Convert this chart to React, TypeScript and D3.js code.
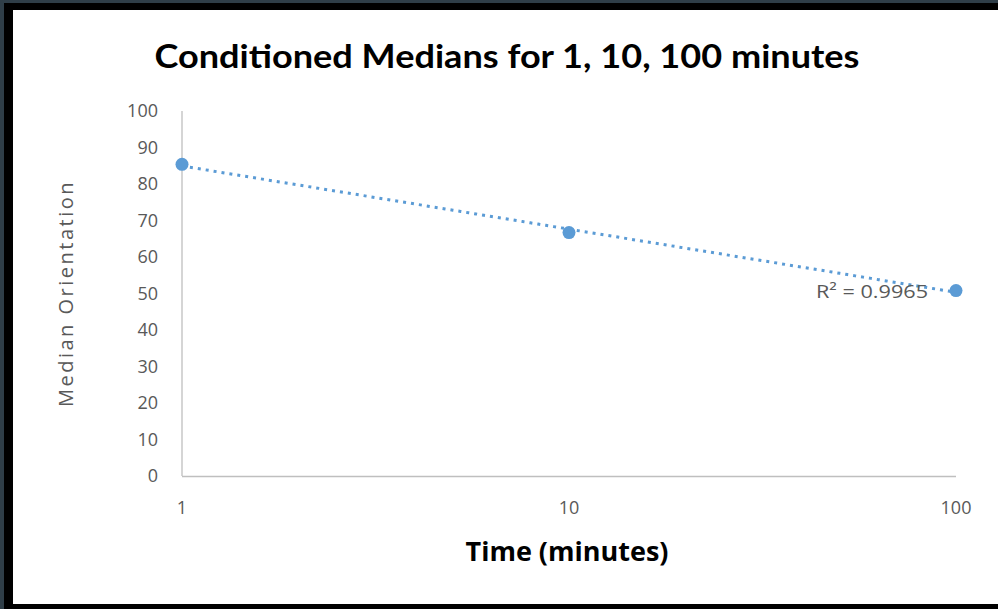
import React, { useRef, useEffect } from 'react';
import * as d3 from 'd3';

// values
const times = [1, 10, 100];
const medians = [85.4, 66.7, 50.8];
const yTicks = [0, 10, 20, 30, 40, 50, 60, 70, 80, 90, 100];
const xTicks = [1, 10, 100];
const title = 'Conditioned Medians for 1, 10, 100 minutes';
const xTitle = 'Time (minutes)';
const yTitle = 'Median Orientation';
const r2Label = 'R² = 0.9965';

function App() {
  const svgRef = useRef<SVGSVGElement>(null);

  useEffect(() => {
    const w = 998;
    const h = 609;
    const svg = d3.select(svgRef.current);
    svg.selectAll('*').remove();
    svg.attr('width', w).attr('height', h);

    // frame
    svg.append('rect').attr('width', w).attr('height', h).attr('fill', '#2f3e48');
    svg.append('rect').attr('x', 4).attr('y', 3).attr('width', w - 4).attr('height', h - 3).attr('fill', '#000');
    svg.append('rect').attr('x', 13).attr('y', 10).attr('width', w - 13).attr('height', 594).attr('fill', '#fff');

    const xScale = d3.scaleLog().domain([1, 100]).range([182, 956]);
    const yScale = d3.scaleLinear().domain([0, 100]).range([476, 111]);

    const grey = '#595959';
    const font = '"Open Sans", sans-serif';

    svg.append('text')
      .attr('x', 507).attr('y', 68)
      .attr('text-anchor', 'middle')
      .attr('font-family', 'Lato, sans-serif')
      .attr('font-weight', 'bold')
      .attr('font-size', 33)
      .attr('textLength', 705)
      .attr('lengthAdjust', 'spacingAndGlyphs')
      .attr('fill', '#000')
      .text(title);

    // axes lines
    svg.append('line')
      .attr('x1', xScale(1)).attr('x2', xScale(1))
      .attr('y1', yScale(100)).attr('y2', yScale(0))
      .attr('stroke', '#bfbfbf').attr('stroke-width', 1.3);
    svg.append('line')
      .attr('x1', xScale(1)).attr('x2', xScale(100))
      .attr('y1', yScale(0) + 0.5).attr('y2', yScale(0) + 0.5)
      .attr('stroke', '#bfbfbf').attr('stroke-width', 1.3);

    svg.append('g').selectAll('text')
      .data(yTicks)
      .join('text')
      .attr('x', 158)
      .attr('y', d => yScale(d))
      .attr('dy', '0.35em')
      .attr('text-anchor', 'end')
      .attr('font-family', font)
      .attr('font-size', 18)
      .attr('fill', grey)
      .text(d => d);

    svg.append('g').selectAll('text')
      .data(xTicks)
      .join('text')
      .attr('x', d => xScale(d))
      .attr('y', 508)
      .attr('dy', '0.35em')
      .attr('text-anchor', 'middle')
      .attr('font-family', font)
      .attr('font-size', 18)
      .attr('fill', grey)
      .text(d => d);

    svg.append('text')
      .attr('transform', `translate(73, ${(yScale(0) + yScale(100)) / 2}) rotate(-90)`)
      .attr('text-anchor', 'middle')
      .attr('font-family', font)
      .attr('font-size', 20)
      .attr('letter-spacing', 2.5)
      .attr('fill', grey)
      .text(yTitle);

    svg.append('text')
      .attr('x', 567).attr('y', 561)
      .attr('text-anchor', 'middle')
      .attr('font-family', font)
      .attr('font-weight', 'bold')
      .attr('font-size', 27)
      .attr('fill', '#000')
      .text(xTitle);

    // logarithmic trendline: y = a + b*log10(x)
    const lx = times.map(t => Math.log10(t));
    const mx = d3.mean(lx) as number;
    const my = d3.mean(medians) as number;
    const b = d3.sum(lx, (v, i) => (v - mx) * (medians[i] - my)) / d3.sum(lx, v => (v - mx) ** 2);
    const a = my - b * mx;
    const trend = d3.range(0, 101).map(i => {
      const t = Math.pow(10, (i / 100) * 2);
      return [t, a + b * Math.log10(t)];
    });
    const line = d3.line<number[]>()
      .x(d => xScale(d[0]))
      .y(d => yScale(d[1]));
    svg.append('path')
      .attr('d', line(trend))
      .attr('fill', 'none')
      .attr('stroke', '#5b9bd5')
      .attr('stroke-width', 3)
      .attr('stroke-dasharray', '3,5');

    svg.append('g').selectAll('circle')
      .data(times)
      .join('circle')
      .attr('cx', d => xScale(d))
      .attr('cy', (d, i) => yScale(medians[i]))
      .attr('r', 6.5)
      .attr('fill', '#5b9bd5');

    svg.append('text')
      .attr('x', 928).attr('y', 298)
      .attr('text-anchor', 'end')
      .attr('font-family', font)
      .attr('font-size', 18)
      .attr('textLength', 112)
      .attr('lengthAdjust', 'spacingAndGlyphs')
      .attr('fill', grey)
      .text(r2Label);
  }, []);

  return (
    <svg ref={svgRef} style={{ position: 'absolute', left: 0, top: 0 }}></svg>
  );
}

export default App;
